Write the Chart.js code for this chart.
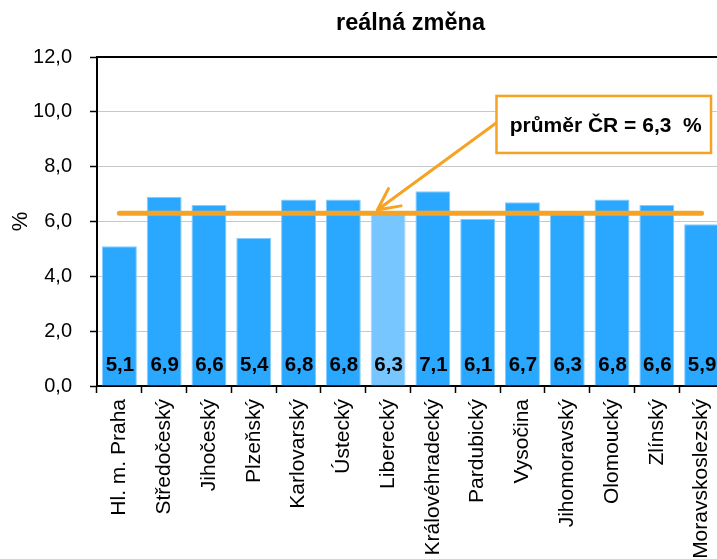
<!DOCTYPE html>
<html><head><meta charset="utf-8">
<script src="https://cdn.jsdelivr.net/npm/chart.js@4/dist/chart.umd.min.js"></script>
<style>html,body{margin:0;padding:0;overflow:hidden;background:#fff;width:717px;height:559px}canvas{display:block}</style>
</head><body>
<canvas id="c" width="724" height="559"></canvas>
<script>
const chartTitle = 'reálná změna';
const yAxisTitle = '%';
const categories = ['Hl. m. Praha','Středočeský','Jihočeský','Plzeňský','Karlovarský','Ústecký','Liberecký','Královéhradecký','Pardubický','Vysočina','Jihomoravský','Olomoucký','Zlínský','Moravskoslezský'];
const values = [5.1, 6.9, 6.6, 5.4, 6.8, 6.8, 6.3, 7.1, 6.1, 6.7, 6.3, 6.8, 6.6, 5.9];
const averageLine = [6.3, 6.3, 6.3, 6.3, 6.3, 6.3, 6.3, 6.3, 6.3, 6.3, 6.3, 6.3, 6.3, 6.3];
const averageLabel = 'průměr ČR = 6,3  %';
const highlighted = 'Liberecký';
const yTicks = [0, 2, 4, 6, 8, 10, 12];

const BLUE = '#2AA8FF', LIGHT = '#78C6FF', ORANGE = '#F6A325';
const FONT = '"Liberation Sans", Arial, sans-serif';
Chart.defaults.font.family = FONT;
Chart.defaults.color = '#000';

const fmt = v => v.toFixed(1).replace('.', ',');

// callout placement in scale units (category index / value)
const callout = { x0: 8.42, x1: 13.21, yTop: 10.58, yBottom: 8.5, arrowFromY: 9.6, tipX: 5.76, tipY: 6.42 };

const decor = {
  id: 'decor',
  afterDatasetsDraw(chart) {
    const { ctx, chartArea: a, scales: { x, y } } = chart;
    ctx.save();
    // value labels at bar bottoms
    ctx.font = 'bold 20.5px ' + FONT;
    ctx.fillStyle = '#000';
    ctx.textAlign = 'center';
    ctx.textBaseline = 'middle';
    chart.getDatasetMeta(1).data.forEach((bar, i) => {
      ctx.fillText(fmt(values[i]), bar.x + 0.5, y.getPixelForValue(0) - 21);
    });
    // top border
    ctx.strokeStyle = '#000';
    ctx.lineWidth = 2;
    ctx.beginPath();
    ctx.moveTo(a.left, a.top);
    ctx.lineTo(a.right, a.top);
    ctx.stroke();
    // callout arrow
    const bx0 = x.getPixelForValue(callout.x0), bx1 = x.getPixelForValue(callout.x1);
    const by0 = y.getPixelForValue(callout.yTop), by1 = y.getPixelForValue(callout.yBottom);
    const sx = bx0, sy = y.getPixelForValue(callout.arrowFromY);
    const tx = x.getPixelForValue(callout.tipX), ty = y.getPixelForValue(callout.tipY);
    ctx.strokeStyle = ORANGE;
    ctx.lineWidth = 3;
    ctx.lineCap = 'round';
    ctx.lineJoin = 'round';
    ctx.beginPath();
    ctx.moveTo(sx, sy);
    ctx.lineTo(tx, ty);
    const ang = Math.atan2(sy - ty, sx - tx);
    const L = 24, spread = 0.46;
    ctx.moveTo(tx + L * Math.cos(ang - spread), ty + L * Math.sin(ang - spread));
    ctx.lineTo(tx, ty);
    ctx.lineTo(tx + L * Math.cos(ang + spread), ty + L * Math.sin(ang + spread));
    ctx.stroke();
    // callout box
    ctx.fillStyle = '#fff';
    ctx.fillRect(bx0, by0, bx1 - bx0, by1 - by0);
    ctx.lineWidth = 2.5;
    ctx.lineCap = 'butt';
    ctx.lineJoin = 'miter';
    ctx.strokeRect(bx0, by0, bx1 - bx0, by1 - by0);
    ctx.fillStyle = '#000';
    ctx.font = 'bold 21px ' + FONT;
    ctx.textAlign = 'center';
    ctx.textBaseline = 'middle';
    ctx.fillText(averageLabel, (bx0 + bx1) / 2 + 2, (by0 + by1) / 2 + 2);
    ctx.restore();
  }
};

new Chart(document.getElementById('c'), {
  data: {
    labels: categories,
    datasets: [
      {
        type: 'line', data: averageLine, order: 0,
        borderColor: ORANGE, borderWidth: 5, borderCapStyle: 'round',
        pointRadius: 0, fill: false, tension: 0
      },
      {
        type: 'bar', data: values, order: 1,
        backgroundColor: categories.map(c => c === highlighted ? LIGHT : BLUE),
        borderColor: categories.map(c => c === highlighted ? '#A6D9FF' : '#86CCFF'),
        borderWidth: 1,
        barPercentage: 0.78, categoryPercentage: 1
      }
    ]
  },
  options: {
    responsive: false,
    animation: false,
    layout: { padding: 0 },
    plugins: {
      legend: { display: false },
      tooltip: { enabled: false },
      title: {
        display: true, text: chartTitle, fullSize: false,
        font: { size: 23.5, weight: 'bold' }, color: '#000',
        padding: { top: 9, bottom: 19.8 }
      }
    },
    scales: {
      x: {
        ticks: { maxRotation: 90, minRotation: 90, autoSkip: false, padding: 6, font: { size: 21 }, color: '#000' },
        grid: { drawOnChartArea: false, offset: true, tickColor: '#000', tickLength: 7, tickWidth: 1.5 },
        border: { color: '#000', width: 2 },
        afterFit(s) { s.height = 173; s.paddingLeft = 0; s.paddingRight = 0; }
      },
      y: {
        min: 0, max: 12,
        afterBuildTicks(s) { s.ticks = yTicks.map(v => ({ value: v })); },
        ticks: { callback: v => fmt(v), padding: 18, font: { size: 20 }, color: '#000' },
        grid: { color: '#C8C8C8', lineWidth: 1, tickColor: '#000', tickLength: 7, tickWidth: 1.5 },
        border: { color: '#000', width: 2 },
        title: { display: true, text: yAxisTitle, font: { size: 22 }, color: '#000', padding: { top: 8, bottom: 0 } },
        afterFit(s) { s.width = 97; }
      }
    }
  },
  plugins: [decor]
});
</script>
</body></html>
